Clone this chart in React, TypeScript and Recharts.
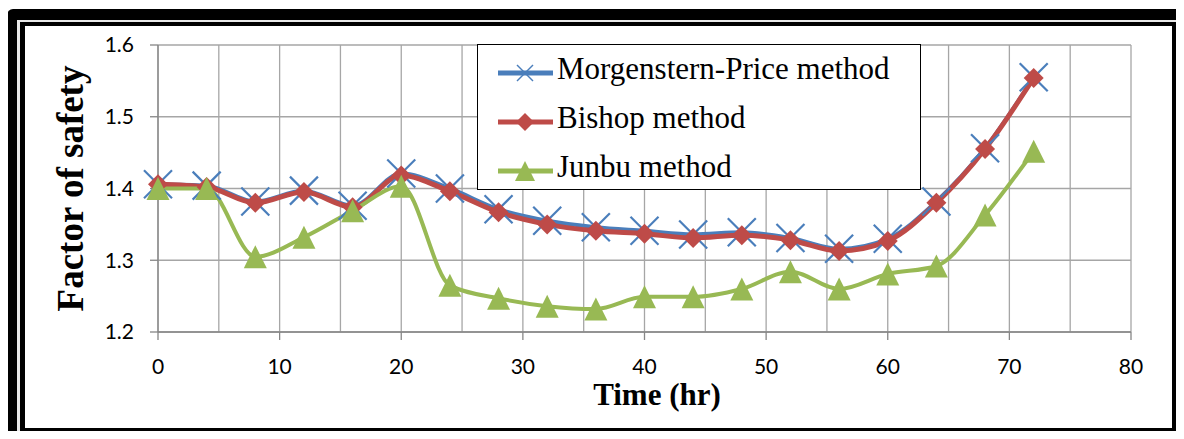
import React from "react";
import { LineChart, Line, XAxis, YAxis, CartesianGrid, ReferenceLine } from "recharts";

const times = [0, 4, 8, 12, 16, 20, 24, 28, 32, 36, 40, 44, 48, 52, 56, 60, 64, 68, 72];
const morgensternPrice = [1.406, 1.404, 1.382, 1.397, 1.376, 1.421, 1.4, 1.371, 1.355, 1.346, 1.341, 1.336, 1.339, 1.331, 1.316, 1.33, 1.382, 1.456, 1.555];
const bishop = [1.406, 1.402, 1.38, 1.395, 1.374, 1.418, 1.396, 1.367, 1.35, 1.341, 1.337, 1.331, 1.335, 1.328, 1.313, 1.327, 1.38, 1.455, 1.554];
const junbu = [1.4, 1.4, 1.305, 1.332, 1.369, 1.403, 1.265, 1.247, 1.236, 1.232, 1.249, 1.249, 1.26, 1.284, 1.26, 1.281, 1.292, 1.363, 1.452];

const xTicks = [0, 10, 20, 30, 40, 50, 60, 70, 80];
const xMinorGrid = [5, 15, 25, 35, 45, 55, 65, 75];
const yTicks = [1.2, 1.3, 1.4, 1.5, 1.6];
const seriesNames = ["Morgenstern-Price method", "Bishop method", "Junbu method"];
const xLabel = "Time (hr)";
const yLabel = "Factor of safety";

const data = times.map((t, i) => ({ t, mp: morgensternPrice[i], bishop: bishop[i], junbu: junbu[i] }));

const BLUE = "#4a7ebb";
const RED = "#be4b48";
const GREEN = "#98b954";
const GRID = "#a6a6a6";
const AXIS = "#868686";
const SERIF = "'Liberation Serif', 'Times New Roman', serif";
const SANS = "Lato, 'Open Sans', sans-serif";

const XMark = ({ cx, cy, r, w }: { cx: number; cy: number; r: number; w: number }) => (
  <g>
    <line x1={cx - r} y1={cy - r} x2={cx + r} y2={cy + r} stroke={BLUE} strokeWidth={w} />
    <line x1={cx - r} y1={cy + r} x2={cx + r} y2={cy - r} stroke={BLUE} strokeWidth={w} />
  </g>
);
const DiamondMark = ({ cx, cy, r }: { cx: number; cy: number; r: number }) => (
  <polygon points={`${cx},${cy - r} ${cx + r},${cy} ${cx},${cy + r} ${cx - r},${cy}`} fill={RED} />
);
const TriMark = ({ cx, cy, r }: { cx: number; cy: number; r: number }) => (
  <polygon points={`${cx},${cy - r} ${cx + r},${cy + r} ${cx - r},${cy + r}`} fill={GREEN} />
);

const markers = [
  (cx: number, cy: number) => <XMark cx={cx} cy={cy} r={8} w={1.5} />,
  (cx: number, cy: number) => <DiamondMark cx={cx} cy={cy} r={9} />,
  (cx: number, cy: number) => <TriMark cx={cx} cy={cy} r={10} />,
];
const colors = [BLUE, RED, GREEN];

const LegendBox = () => (
  <div style={{ width: 442, height: 144, border: "1px solid #000", background: "#fff", position: "relative" }}>
    {seriesNames.map((name, i) => (
      <div key={name} style={{ position: "absolute", left: 0, top: 4 + i * 49, height: 49, width: 440 }}>
        <svg width={60} height={40} style={{ position: "absolute", left: 18, top: 4 }}>
          <line x1={2} y1={20} x2={57} y2={20} stroke={colors[i]} strokeWidth={5} />
          {markers[i](29, 20)}
        </svg>
        <span
          style={{
            position: "absolute",
            left: 79,
            top: 0,
            fontFamily: SERIF,
            fontSize: 31,
            lineHeight: "40px",
            color: "#000",
            whiteSpace: "nowrap",
          }}
        >
          {name}
        </span>
      </div>
    ))}
  </div>
);

export default function App() {
  return (
    <div style={{ position: "relative", margin: -8, width: 1184, height: 439, overflow: "hidden", background: "#fff" }}>
      <div style={{ position: "absolute", left: 7, top: 9, width: 1176, height: 429, background: "#000", borderRadius: 6 }} />
      <div style={{ position: "absolute", left: 17, top: 20, width: 1162, height: 415, background: "#e8e8e8" }} />
      <div style={{ position: "absolute", left: 20, top: 22, width: 1156, height: 411, background: "#000" }} />
      <div style={{ position: "absolute", left: 25, top: 26, width: 1147, height: 402, background: "#fff" }} />
      <div style={{ position: "absolute", left: 0, top: 0 }}>
        <LineChart width={1184} height={439} data={data} margin={{ top: 45, right: 53, bottom: 77, left: 98 }}>
          <CartesianGrid stroke={GRID} strokeWidth={1.3} />
          {xMinorGrid.map((v) => (
            <ReferenceLine key={v} x={v} stroke={GRID} strokeWidth={1.3} />
          ))}
          <XAxis
            dataKey="t"
            type="number"
            domain={[0, 80]}
            ticks={xTicks}
            interval={0}
            height={30}
            stroke={AXIS}
            strokeWidth={1.3}
            tickSize={8}
            tickMargin={19}
            tick={{ fill: "#000", fontFamily: SANS, fontSize: 21 }}
            label={{
              content: () => (
                <text x={657} y={405} textAnchor="middle" fontFamily={SERIF} fontWeight="bold" fontSize={31} fill="#000">
                  {xLabel}
                </text>
              ),
            }}
          />
          <YAxis
            type="number"
            domain={[1.2, 1.6]}
            ticks={yTicks}
            interval={0}
            width={60}
            stroke={AXIS}
            strokeWidth={1.3}
            tickSize={8}
            tickMargin={16}
            tickFormatter={(v: number) => v.toFixed(1)}
            tick={{ fill: "#000", fontFamily: SANS, fontSize: 21 }}
            label={{
              content: () => (
                <text
                  x={83}
                  y={188.5}
                  transform="rotate(-90 83 188.5)"
                  textAnchor="middle"
                  fontFamily={SERIF}
                  fontWeight="bold"
                  fontSize={37}
                  fill="#000"
                >
                  {yLabel}
                </text>
              ),
            }}
          />
          <Line
            dataKey="mp"
            name={seriesNames[0]}
            type="monotone"
            stroke={BLUE}
            strokeWidth={4}
            isAnimationActive={false}
            dot={(p: any) => <XMark key={`mp${p.index}`} cx={p.cx} cy={p.cy} r={14} w={2.2} />}
          />
          <Line
            dataKey="bishop"
            name={seriesNames[1]}
            type="monotone"
            stroke={RED}
            strokeWidth={5}
            isAnimationActive={false}
            dot={(p: any) => <DiamondMark key={`b${p.index}`} cx={p.cx} cy={p.cy} r={10} />}
          />
          <Line
            dataKey="junbu"
            name={seriesNames[2]}
            type="monotone"
            stroke={GREEN}
            strokeWidth={4}
            isAnimationActive={false}
            dot={(p: any) => <TriMark key={`j${p.index}`} cx={p.cx} cy={p.cy} r={11.5} />}
          />
        </LineChart>
      </div>
      <div style={{ position: "absolute", left: 477, top: 44 }}>
        <LegendBox />
      </div>
    </div>
  );
}
